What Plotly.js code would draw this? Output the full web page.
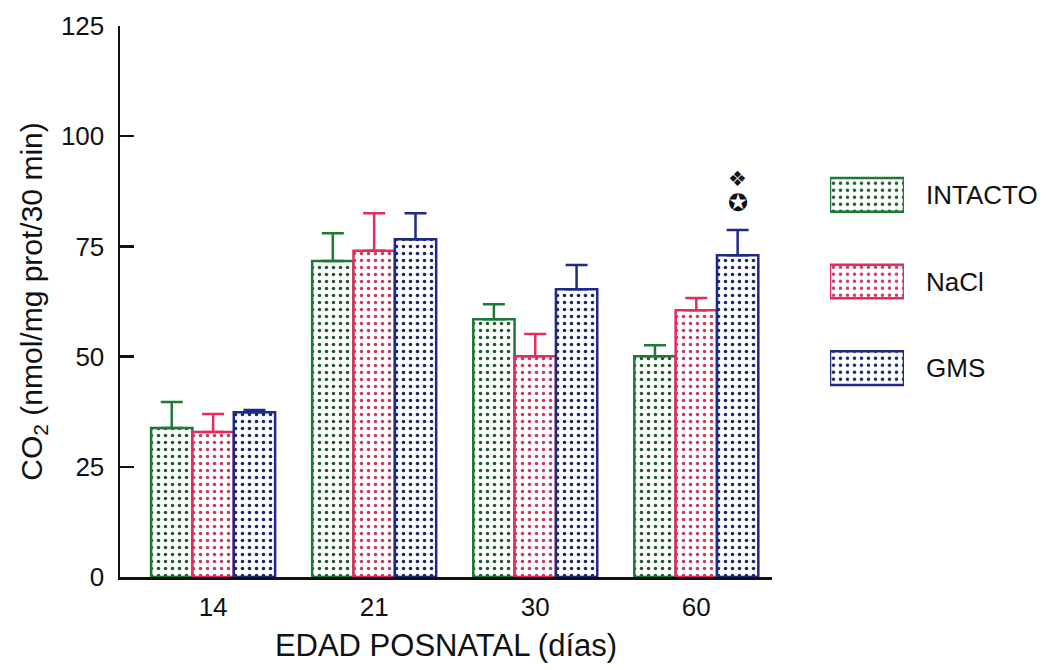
<!DOCTYPE html>
<html>
<head>
<meta charset="utf-8">
<script src="https://cdn.plot.ly/plotly-3.0.1.min.js"></script>
<style>
html,body{margin:0;padding:0;background:#fff;}
#chart{width:1046px;height:670px;}
</style>
</head>
<body>
<div id="chart"></div>
<script>
// ---- data ----
const days = ['14', '21', '30', '60'];
const seriesNames = ['INTACTO', 'NaCl', 'GMS'];
const intacto = [33.8, 71.7, 58.5, 50.1];
const intactoErr = [5.9, 6.3, 3.4, 2.5];
const nacl = [32.9, 74.0, 50.1, 60.5];
const naclErr = [4.1, 8.5, 5.0, 2.8];
const gms = [37.4, 76.6, 65.3, 73.0];
const gmsErr = [0.5, 5.9, 5.5, 5.7];
const gmsMarkTop = ['', '', '', '\u2756'];
const gmsMarkLow = ['', '', '', '\u272A'];
const yTicks = [0, 25, 50, 75, 100, 125];

// ---- styles ----
const lineColors = ['#1c7a36', '#e62a5c', '#1d2a86'];
const dotColors = ['#1e5a2e', '#c93a60', '#1a2268'];
const FONT = 'Arial, "Liberation Sans", Helvetica, sans-serif';
const bargap = 0.23;

const values = [intacto, nacl, gms];
const errs = [intactoErr, naclErr, gmsErr];

const traces = values.map((v, k) => ({
  type: 'bar',
  name: seriesNames[k],
  x: days,
  y: v,
  marker: {
    color: 'white',
    line: {color: lineColors[k], width: 2.5},
    pattern: {shape: '.', fgcolor: dotColors[k], bgcolor: 'white', size: 7, solidity: 0.2}
  },
  error_y: {
    type: 'data', symmetric: false,
    array: errs[k], arrayminus: v.map(() => 0),
    color: lineColors[k], thickness: 2.5, width: 11
  },
  showlegend: false,
  hoverinfo: 'x+y'
}));

// legend drawn as a tiny bar subplot
traces.push({
  type: 'bar',
  orientation: 'h',
  y: seriesNames,
  x: seriesNames.map(() => 1),
  xaxis: 'x2', yaxis: 'y2',
  width: 0.39,
  marker: {
    color: 'white',
    line: {color: lineColors, width: 2.5},
    pattern: {shape: '.', fgcolor: dotColors, bgcolor: 'white', size: 7, solidity: 0.2}
  },
  showlegend: false,
  hoverinfo: 'skip'
});

const w = (1 - bargap) / 3;
const annotations = [];
days.forEach((d, i) => {
  const top = gms[i] + gmsErr[i];
  if (gmsMarkLow[i]) annotations.push({
    x: i + w, y: top, xref: 'x', yref: 'y', text: gmsMarkLow[i],
    showarrow: false, yanchor: 'middle', xanchor: 'center', yshift: 27,
    font: {family: '"DejaVu Sans", sans-serif', size: 24, color: '#111'}
  });
  if (gmsMarkTop[i]) annotations.push({
    x: i + w, y: top, xref: 'x', yref: 'y', text: gmsMarkTop[i],
    showarrow: false, yanchor: 'middle', xanchor: 'center', yshift: 51,
    font: {family: '"DejaVu Sans", sans-serif', size: 21, color: '#111'}
  });
});

const layout = {
  width: 1046, height: 670,
  margin: {l: 120, r: 10, t: 26, b: 93},
  paper_bgcolor: 'white', plot_bgcolor: 'white',
  font: {family: FONT, color: '#111', size: 26},
  barmode: 'group', bargap: bargap, bargroupgap: 0,
  showlegend: false,
  xaxis: {
    type: 'category', domain: [0, 0.7118], range: [-0.578, 3.47],
    showline: true, linecolor: '#111', linewidth: 2.5,
    ticks: '', showgrid: false, zeroline: false,
    tickfont: {family: FONT, size: 26, color: '#111'},
    ticklabelstandoff: 5,
    title: {text: 'EDAD POSNATAL (días)', font: {family: FONT, size: 31, color: '#111'}, standoff: 14}
  },
  yaxis: {
    range: [0, 125], tickvals: yTicks, ticktext: yTicks.map(String),
    showline: true, linecolor: '#111', linewidth: 2.5,
    ticks: 'inside', ticklen: 14, tickwidth: 2.5, tickcolor: '#111',
    showgrid: false, zeroline: false,
    tickfont: {family: FONT, size: 26, color: '#111'},
    ticklabelstandoff: 8,
    title: {text: 'CO<sub>2</sub> (nmol/mg prot/30 min)', font: {family: FONT, size: 30, color: '#111'}, standoff: 10}
  },
  xaxis2: {domain: [0.7751, 0.8559], anchor: 'y2', range: [0, 1], visible: false, fixedrange: true},
  yaxis2: {
    domain: [0.3008, 0.7718], anchor: 'x2', type: 'category', autorange: 'reversed',
    side: 'right', showline: false, ticks: '', showgrid: false, zeroline: false,
    tickfont: {family: FONT, size: 26, color: '#111'}, ticklabelstandoff: 21, fixedrange: true
  },
  annotations: annotations
};

Plotly.newPlot('chart', traces, layout, {displayModeBar: false, staticPlot: true});
</script>
</body>
</html>
